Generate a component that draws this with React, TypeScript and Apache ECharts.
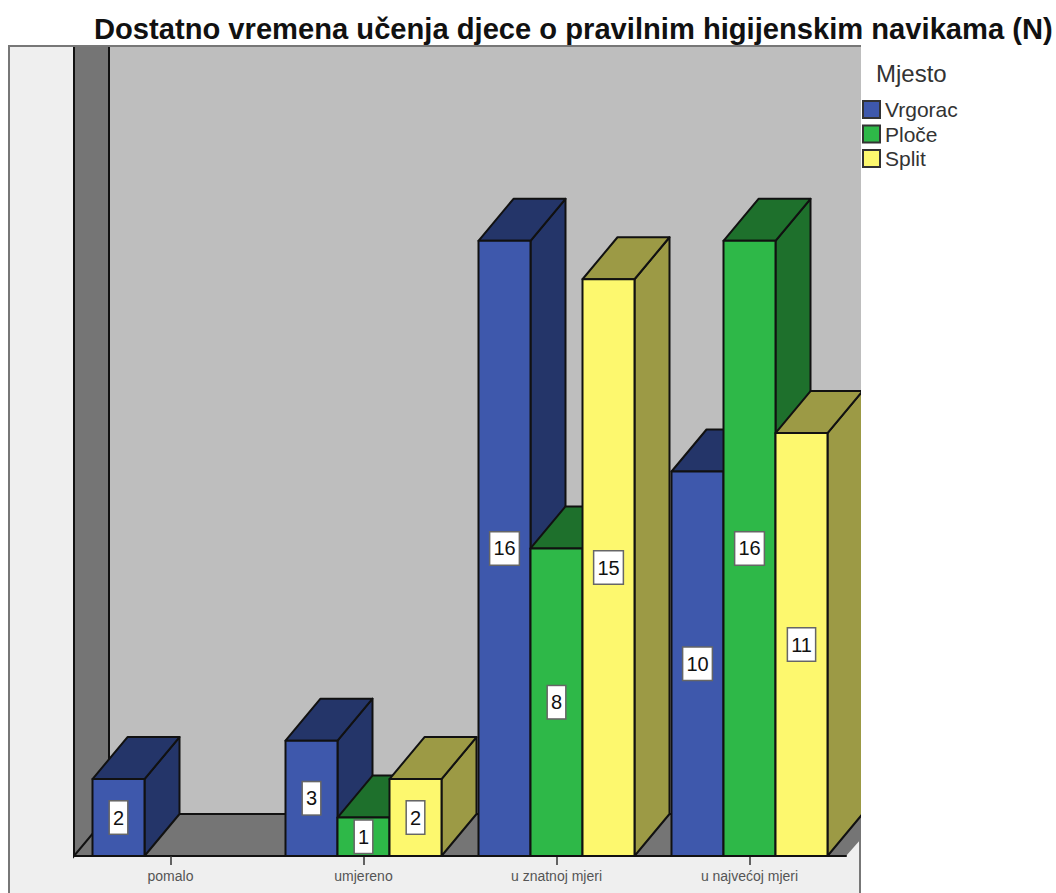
import React, { useEffect, useRef } from "react";
import * as echarts from "echarts";

const titleText = "Dostatno vremena učenja djece o pravilnim higijenskim navikama (N)";
const legendTitle = "Mjesto";
const categories = ["pomalo", "umjereno", "u znatnoj mjeri", "u najvećoj mjeri"];
const seriesNames = ["Vrgorac", "Ploče", "Split"];
const vrgorac = [2, 3, 16, 10];
const ploce = [null, 1, 8, 16];
const split = [null, 2, 15, 11];
const frontColors = ["#3E58AC", "#2EB848", "#FDF86E"];
const darkColors = ["#243569", "#1E702C", "#9C9A45"];

const LINE = "#111111";
const DX = 35;
const DY = 42;

function makeSeries(name: string, values: (number | null)[], idx: number) {
  return {
    type: "custom",
    name,
    clip: false,
    z: 2 + idx,
    itemStyle: { color: frontColors[idx], borderColor: "#333", borderWidth: 2 },
    data: values.map((v, i) => [i, v]),
    encode: { x: 0, y: 1 },
    renderItem: (_params: any, api: any) => {
      const cat = api.value(0);
      const val = api.value(1);
      if (val === null || val === undefined || isNaN(val)) return { type: "group", children: [] };
      const band = api.size([1, 0])[0];
      const w = (band * 52) / 193;
      const top = api.coord([cat, val]);
      const base = api.coord([cat, 0]);
      const cx = top[0] + (idx - 1) * w;
      const x0 = cx - w / 2;
      const x1 = cx + w / 2;
      const yT = top[1];
      const yB = base[1];
      const lineStyle = { stroke: LINE, lineWidth: 2, lineJoin: "round" };
      return {
        type: "group",
        children: [
          {
            type: "polygon",
            shape: { points: [[x1, yT], [x1 + DX, yT - DY], [x1 + DX, yB - DY], [x1, yB]] },
            style: { fill: darkColors[idx], ...lineStyle },
          },
          {
            type: "polygon",
            shape: { points: [[x0, yT], [x0 + DX, yT - DY], [x1 + DX, yT - DY], [x1, yT]] },
            style: { fill: darkColors[idx], ...lineStyle },
          },
          {
            type: "rect",
            shape: { x: x0, y: yT, width: w, height: yB - yT },
            style: { fill: frontColors[idx], ...lineStyle },
          },
          {
            type: "text",
            x: cx,
            y: (yT + yB) / 2,
            style: {
              text: String(val),
              align: "center",
              verticalAlign: "middle",
              fontFamily: "Liberation Sans",
              fontSize: 20,
              fill: "#111",
              backgroundColor: "#ffffff",
              borderColor: "#666",
              borderWidth: 1.5,
              padding: [7, 3, 5, 3],
            },
          },
        ],
      };
    },
  };
}

export default function App() {
  const ref = useRef<HTMLDivElement>(null);
  useEffect(() => {
    const chart = echarts.init(ref.current!, undefined, { renderer: "svg" });
    chart.setOption({
      animation: false,
      backgroundColor: "#ffffff",
      title: [
        {
          text: titleText,
          left: 89,
          top: 9,
          z: 200,
          textStyle: { fontFamily: "Liberation Sans", fontSize: 29.15, fontWeight: "bold", color: "#111" },
        },
        {
          text: legendTitle,
          left: 871,
          top: 56,
          z: 200,
          textStyle: { fontFamily: "Liberation Sans", fontSize: 24, fontWeight: "normal", color: "#333" },
        },
      ],
      legend: {
        orient: "vertical",
        left: 862,
        top: 99,
        z: 200,
        itemWidth: 17,
        itemHeight: 17,
        itemGap: 3.5,
        padding: 0,
        icon: "rect",
        data: seriesNames,
        textStyle: { fontFamily: "Liberation Sans", fontSize: 21, color: "#333", lineHeight: 17, height: 17, padding: [2, 0, 0, 0] },
      },
      grid: { left: 74, top: 47, width: 772, height: 809 },
      xAxis: {
        type: "category",
        data: categories,
        axisLine: { show: true, lineStyle: { color: LINE, width: 2 } },
        axisTick: { show: true, alignWithLabel: true, length: 9, lineStyle: { color: "#333", width: 1.5 } },
        axisLabel: { fontFamily: "Liberation Sans", fontSize: 14, color: "#555", margin: 13 },
        splitLine: { show: false },
      },
      yAxis: { type: "value", min: 0, max: 21.04, show: false, splitLine: { show: false } },
      graphic: [
        {
          type: "rect",
          z: -3,
          shape: { x: 9, y: 46, width: 851, height: 860 },
          style: { fill: "#EFEFEF", stroke: "#777", lineWidth: 2 },
        },
        {
          type: "rect",
          z: -2,
          shape: { x: 109, y: 47, width: 752, height: 767 },
          style: { fill: "#BEBEBE" },
        },
        {
          type: "polygon",
          z: -2,
          shape: { points: [[74, 47], [109, 47], [109, 814], [74, 856]] },
          style: { fill: "#757575" },
        },
        {
          type: "polygon",
          z: -2,
          shape: { points: [[74, 856], [109, 814], [861, 814], [861, 839], [846, 856]] },
          style: { fill: "#757575" },
        },
        {
          type: "polyline",
          z: -1,
          shape: { points: [[74, 47], [74, 856], [109, 814], [861, 814]] },
          style: { stroke: LINE, lineWidth: 2, fill: "none" },
        },
        {
          type: "line",
          z: -1,
          shape: { x1: 109, y1: 47, x2: 109, y2: 814 },
          style: { stroke: LINE, lineWidth: 2 },
        },
        {
          type: "rect",
          z: 100,
          shape: { x: 861, y: 47, width: 195, height: 846 },
          style: { fill: "#ffffff" },
        },
      ],
      series: [
        makeSeries(seriesNames[0], vrgorac, 0),
        makeSeries(seriesNames[1], ploce, 1),
        makeSeries(seriesNames[2], split, 2),
      ],
    });
    return () => chart.dispose();
  }, []);
  return <div ref={ref} style={{ position: "fixed", left: 0, top: 0, width: 1056, height: 893 }} />;
}
